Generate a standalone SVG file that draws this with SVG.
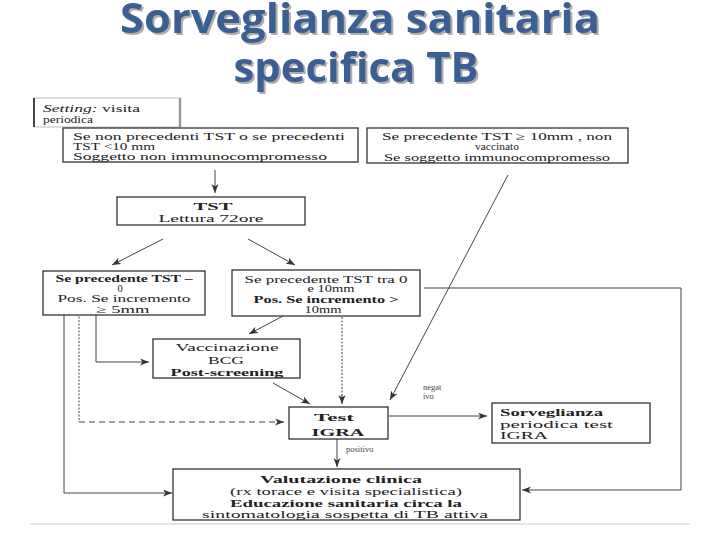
<svg xmlns="http://www.w3.org/2000/svg" width="720" height="540" viewBox="0 0 720 540">
<defs>
<style>
.t{font-family:"Liberation Serif","DejaVu Serif",serif;font-size:10.5px;fill:#222}
.b{font-weight:bold}
.c{text-anchor:middle}
.box{fill:#fff;stroke:#333;stroke-width:1.3}
.ln{fill:none;stroke:#444;stroke-width:1}
.ttl{font-family:"Open Sans","DejaVu Sans",sans-serif;font-size:41px;font-weight:bold;text-anchor:middle;fill:#3b5e93}
.lbl{font-family:"Liberation Serif","DejaVu Serif",serif;font-size:8.5px;fill:#444}
</style>
<filter id="sh" x="-5%" y="-20%" width="110%" height="140%">
<feDropShadow dx="2" dy="2" stdDeviation="0.6" flood-color="#9a9a9a" flood-opacity="0.8"/>
</filter>
<marker id="ah" markerUnits="userSpaceOnUse" markerWidth="10" markerHeight="8" refX="9" refY="3.5" orient="auto">
<path d="M0,0 L9,3.5 L0,7 L2.5,3.5 z" fill="#333"/>
</marker>
</defs>
<rect width="720" height="540" fill="#fff"/>
<g id="title" filter="url(#sh)">
<text class="ttl" x="360" y="33" textLength="480" lengthAdjust="spacingAndGlyphs">Sorveglianza sanitaria</text>
<text class="ttl" x="356" y="82" textLength="245" lengthAdjust="spacingAndGlyphs">specifica TB</text>
</g>
<line x1="30" y1="524" x2="690" y2="524" stroke="#cfcfcf" stroke-width="1"/>
<g id="connectors">
<line class="ln" x1="215" y1="170" x2="215" y2="193" stroke-width="1.6" marker-end="url(#ah)"/>
<line class="ln" x1="163" y1="239" x2="112" y2="265" marker-end="url(#ah)"/>
<line class="ln" x1="248" y1="239" x2="295" y2="265" marker-end="url(#ah)"/>
<line class="ln" x1="508" y1="175" x2="390" y2="400" stroke-width="1.2" marker-end="url(#ah)"/>
<polyline class="ln" points="424,288 681,288 681,490 522,490" stroke="#555" marker-end="url(#ah)"/>
<line class="ln" x1="300" y1="307" x2="249" y2="334" marker-end="url(#ah)"/>
<line class="ln" x1="342" y1="317" x2="342" y2="398" stroke="#777" stroke-width="3" stroke-dasharray="2,1.5"/>
<line class="ln" x1="342" y1="395" x2="342" y2="404" marker-end="url(#ah)"/>
<line class="ln" x1="273" y1="383" x2="310" y2="404" marker-end="url(#ah)"/>
<polyline class="ln" points="64,312 64,493 172,493" stroke="#444" stroke-width="1.5" marker-end="url(#ah)"/>
<line class="ln" x1="79" y1="313" x2="79" y2="422" stroke="#888" stroke-width="3" stroke-dasharray="2,1.5"/>
<line class="ln" x1="79" y1="422" x2="284" y2="422" stroke="#555" stroke-dasharray="6,4" marker-end="url(#ah)"/>
<line class="ln" x1="96" y1="313" x2="96" y2="362" stroke="#888" stroke-width="3"/>
<line class="ln" x1="96" y1="362" x2="149" y2="362" stroke="#999" marker-end="url(#ah)"/>
<line class="ln" x1="389" y1="416" x2="487" y2="416" stroke="#555" stroke-width="1.5" marker-end="url(#ah)"/>
<line class="ln" x1="337" y1="439" x2="337" y2="467" stroke="#222" stroke-width="2" marker-end="url(#ah)"/>
<text class="lbl" x="423" y="390">negat</text>
<text class="lbl" x="423" y="399">ivo</text>
<text class="lbl" x="346" y="452">positivo</text>
</g>
<g id="setting">
<rect x="34" y="98" width="146" height="29" fill="#fff" stroke="#bbb" stroke-width="1"/>
<line x1="34" y1="98" x2="34" y2="127" stroke="#444" stroke-width="2"/>
<line x1="180" y1="98" x2="180" y2="127" stroke="#999" stroke-width="2.5"/>
<text class="t" x="43" y="112" font-size="11" textLength="97" lengthAdjust="spacingAndGlyphs"><tspan font-style="italic">Setting:</tspan> visita</text>
<text class="t" x="43" y="123" font-size="11" textLength="50" lengthAdjust="spacingAndGlyphs">periodica</text>
</g>
<g id="n-nonprec">
<rect class="box" x="63" y="128" width="295" height="34"/>
<text class="t" x="73" y="140" textLength="272" lengthAdjust="spacingAndGlyphs">Se non precedenti TST o se precedenti</text>
<text class="t" x="73" y="150" textLength="82" lengthAdjust="spacingAndGlyphs">TST &lt;10 mm</text>
<text class="t" x="73" y="159.5" textLength="254" lengthAdjust="spacingAndGlyphs">Soggetto non immunocompromesso</text>
</g>
<g id="n-prec10">
<rect class="box" x="367" y="128" width="261" height="35"/>
<text class="t c" x="497" y="140" textLength="230" lengthAdjust="spacingAndGlyphs">Se precedente TST ≥ 10mm , non</text>
<text class="t c" x="497" y="150" textLength="44" lengthAdjust="spacingAndGlyphs">vaccinato</text>
<text class="t c" x="497" y="160.5" textLength="226" lengthAdjust="spacingAndGlyphs">Se soggetto immunocompromesso</text>
</g>
<g id="n-tst">
<rect class="box" x="117" y="197" width="188" height="28"/>
<text class="t c b" x="213" y="210" font-size="12" textLength="39" lengthAdjust="spacingAndGlyphs">TST</text>
<text class="t c" x="211" y="221.5" font-size="11.5" textLength="105" lengthAdjust="spacingAndGlyphs">Lettura 72ore</text>
</g>
<g id="n-prec0">
<rect class="box" x="43" y="271" width="162" height="44"/>
<text class="t c b" x="124" y="282" textLength="137" lengthAdjust="spacingAndGlyphs">Se precedente TST –</text>
<text class="t c" x="120" y="291.5" font-size="9.5">0</text>
<text class="t c" x="124" y="302" textLength="133" lengthAdjust="spacingAndGlyphs">Pos. Se incremento</text>
<text class="t c" x="123" y="312.5" textLength="53" lengthAdjust="spacingAndGlyphs">≥ 5mm</text>
</g>
<g id="n-prec010">
<rect class="box" x="232" y="270" width="188" height="46"/>
<text class="t c" x="326" y="282.5" textLength="163" lengthAdjust="spacingAndGlyphs">Se precedente TST tra 0</text>
<text class="t c" x="331" y="292" font-size="9.5" textLength="47" lengthAdjust="spacingAndGlyphs">e 10mm</text>
<text class="t c b" x="326" y="302.5" textLength="145" lengthAdjust="spacingAndGlyphs">Pos. Se incremento &gt;</text>
<text class="t c" x="323" y="312.5" textLength="37" lengthAdjust="spacingAndGlyphs">10mm</text>
</g>
<g id="n-bcg">
<rect class="box" x="153" y="339" width="147" height="39"/>
<text class="t c" x="227" y="351" font-size="12" textLength="103" lengthAdjust="spacingAndGlyphs">Vaccinazione</text>
<text class="t c" x="226" y="363.5" font-size="12" textLength="36" lengthAdjust="spacingAndGlyphs">BCG</text>
<text class="t c b" x="227" y="375.5" font-size="12" textLength="113" lengthAdjust="spacingAndGlyphs">Post-screening</text>
</g>
<g id="n-igra">
<rect class="box" x="289" y="407" width="99" height="32" stroke-width="1.6"/>
<text class="t c b" x="334" y="421" font-size="14" textLength="40" lengthAdjust="spacingAndGlyphs">Test</text>
<text class="t c b" x="338" y="435.5" font-size="14" textLength="53" lengthAdjust="spacingAndGlyphs">IGRA</text>
</g>
<g id="n-sorv">
<rect class="box" x="492" y="403" width="158" height="40"/>
<text class="t b" x="500" y="416" font-size="11.5" textLength="103" lengthAdjust="spacingAndGlyphs">Sorveglianza</text>
<text class="t" x="500" y="427.5" font-size="11.5" textLength="113" lengthAdjust="spacingAndGlyphs">periodica test</text>
<text class="t" x="500" y="439" font-size="11.5" textLength="48" lengthAdjust="spacingAndGlyphs">IGRA</text>
</g>
<g id="n-valut">
<rect class="box" x="173" y="469" width="347" height="51" stroke-width="1.5"/>
<text class="t c b" x="341" y="482.5" font-size="11.5" textLength="162" lengthAdjust="spacingAndGlyphs">Valutazione clinica</text>
<text class="t c" x="346" y="494.5" font-size="11.5" textLength="232" lengthAdjust="spacingAndGlyphs">(rx torace e visita specialistica)</text>
<text class="t c b" x="346" y="506.5" font-size="11.5" textLength="232" lengthAdjust="spacingAndGlyphs">Educazione sanitaria circa la</text>
<text class="t c" x="345" y="518" font-size="11.5" textLength="286" lengthAdjust="spacingAndGlyphs">sintomatologia sospetta di TB attiva</text>
</g>
</svg>
